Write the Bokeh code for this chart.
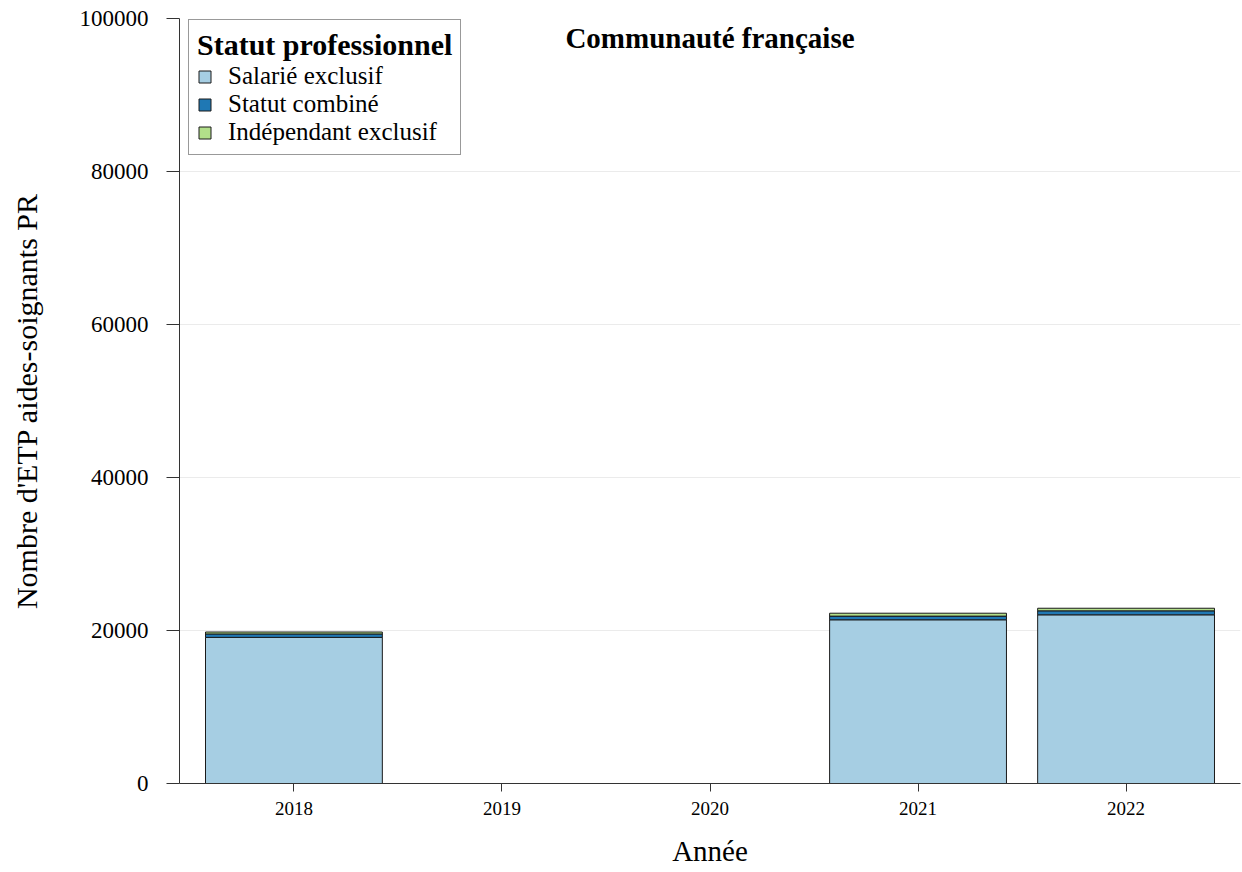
import numpy as np
from bokeh.plotting import figure
from bokeh.models import ColumnDataSource, Range1d, FixedTicker, NumeralTickFormatter, Legend, Label
from bokeh.embed import file_html
from bokeh.resources import INLINE

years = [2018, 2019, 2020, 2021, 2022]
salarie_exclusif = np.array([19100, np.nan, np.nan, 21400, 22050])
statut_combine = np.array([450, np.nan, np.nan, 480, 520])
independant_exclusif = np.array([250, np.nan, np.nan, 380, 340])
series_names = ["Salarié exclusif", "Statut combiné", "Indépendant exclusif"]
colors = ["#a6cee3", "#1f78b4", "#b2df8a"]
y_ticks = [0, 20000, 40000, 60000, 80000, 100000]

FONT = "Liberation Serif"

source = ColumnDataSource(dict(
    year=years,
    sal=salarie_exclusif,
    comb=statut_combine,
    ind=independant_exclusif,
))

p = figure(
    width=1242, height=872,
    min_border_left=179, min_border_right=2, min_border_top=18, min_border_bottom=89,
    x_range=Range1d(2017.45, 2022.55), y_range=Range1d(0, 100000),
    output_backend="svg", toolbar_location=None,
    background_fill_color="white", border_fill_color="white",
)
p.outline_line_color = None

renderers = p.vbar_stack(
    ["sal", "comb", "ind"], x="year", width=0.85, source=source,
    fill_color=colors, line_color="#1a1a1a", line_width=1,
)

# axes
p.xaxis.ticker = FixedTicker(ticks=years)
p.yaxis.ticker = FixedTicker(ticks=y_ticks)
p.yaxis.formatter = NumeralTickFormatter(format="0")
for ax in (p.xaxis[0], p.yaxis[0]):
    ax.axis_line_color = "#333333"
    ax.axis_line_width = 1
    ax.major_tick_line_color = "#333333"
    ax.major_tick_in = 0
    ax.minor_tick_line_color = None
    ax.major_label_text_font = FONT
    ax.major_label_text_color = "black"
    ax.axis_label_text_font = FONT
    ax.axis_label_text_font_style = "normal"
    ax.axis_label_text_color = "black"

p.yaxis.major_tick_out = 13
p.yaxis.major_label_text_font_size = "23px"
p.yaxis.major_label_standoff = 18
p.yaxis.axis_label = "Nombre d'ETP aides-soignants PR"
p.yaxis.axis_label_text_font_size = "30px"
p.yaxis.axis_label_standoff = 34

p.xaxis.major_tick_out = 8
p.xaxis.major_label_text_font_size = "19px"
p.xaxis.major_label_standoff = 10
p.xaxis.axis_label = "Année"
p.xaxis.axis_label_text_font_size = "29px"
p.xaxis.axis_label_standoff = 17

p.xgrid.grid_line_color = None
p.ygrid.grid_line_color = "#ebebeb"
p.ygrid.grid_line_width = 1

# legend
legend = Legend(
    items=[(name, [r]) for name, r in zip(series_names, renderers)],
    location=(9, 628),
    title="Statut professionnel",
    title_text_font=FONT, title_text_font_style="bold", title_text_font_size="30px",
    title_text_color="black", title_standoff=0,
    label_text_font=FONT, label_text_font_size="25px", label_text_color="black",
    label_height=28, spacing=0, glyph_width=15, glyph_height=15, label_standoff=16,
    padding=8, margin=0,
    border_line_color="#333333", border_line_width=1,
    background_fill_color="white", background_fill_alpha=1,
)
p.add_layout(legend)

# title inside the plot area
title = Label(
    x=2020, y=97400, text="Communauté française",
    text_font=FONT, text_font_style="bold", text_font_size="29px",
    text_align="center", text_baseline="middle", text_color="black",
)
p.add_layout(title)

open("out.html", "w").write(file_html(p, INLINE))
